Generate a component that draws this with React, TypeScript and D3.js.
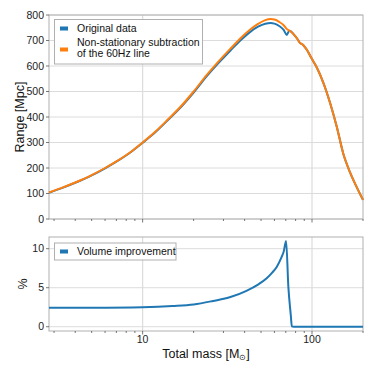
import React, { useEffect, useRef } from "react";
import * as d3 from "d3";

// Top panel: range vs total mass
const massTop = [2.8, 3.3, 4, 5, 6, 7, 8.5, 10, 12, 14, 17, 20, 24, 28, 33, 38, 43, 48, 53, 57, 60, 64, 68, 71, 72.5, 74, 78, 82, 85, 88, 91, 94, 99, 106, 117, 128, 140, 153, 167, 183, 200];
const rangeSub = [104, 121, 143, 172, 200, 226, 263, 300, 345, 388, 445, 500, 566, 617, 668, 710, 742, 765, 780, 784, 782, 773, 760, 745, 741, 738, 724, 706, 690, 684, 673, 660, 632, 598, 532, 454, 362, 256, 186, 127, 75];
const rangeOrig = [103, 120, 142, 171, 199, 225, 262, 299, 343, 386, 442, 496, 561, 611, 661, 702, 733, 754, 766, 769, 766, 757, 742, 722, 733, 738, 724, 706, 690, 684, 673, 660, 632, 598, 532, 454, 362, 256, 186, 127, 75];

// Bottom panel: volume improvement in percent
const massBot = [2.8, 5, 10, 15, 20, 26, 33, 41, 48, 54, 58, 62, 66, 68, 70.3, 72.5, 75, 76, 78, 100, 200];
const volImp = [2.42, 2.43, 2.5, 2.65, 2.85, 3.3, 3.8, 4.6, 5.4, 6.2, 6.9, 7.7, 8.9, 9.6, 11.0, 5.1, 1.4, 0.05, 0, 0, 0];

const topTicks = [0, 100, 200, 300, 400, 500, 600, 700, 800];
const botTicks = [0, 5, 10];
const xMajor = [10, 100];

const BLUE = "#1f77b4";
const ORANGE = "#ff7f0e";
const GRID = "#dcdcdc";
const FRAME = "#b0b0b0";
const FONT = "Liberation Sans, Arial, sans-serif";

export default function App() {
  const ref = useRef<SVGSVGElement>(null);

  useEffect(() => {
    const svg = d3.select(ref.current);
    svg.selectAll("*").remove();

    const left = 49, right = 363;
    const x = d3.scaleLog().domain([2.8, 200]).range([left, right]);
    const yTop = d3.scaleLinear().domain([0, 800]).range([219, 15]);
    const yBot = d3.scaleLinear().domain([-0.55, 11.5]).range([331, 237]);

    const minor = x.ticks().filter(v => v >= 2.8 && v <= 200);

    const panel = (y: d3.ScaleLinear<number, number>, ticks: number[]) => {
      const [y0, y1] = y.range();
      const g = svg.append("g");
      // grid
      ticks.forEach(t => {
        g.append("line").attr("x1", left).attr("x2", right)
          .attr("y1", y(t)).attr("y2", y(t))
          .attr("stroke", GRID).attr("stroke-width", 1);
      });
      xMajor.forEach(t => {
        g.append("line").attr("x1", x(t)).attr("x2", x(t))
          .attr("y1", y0).attr("y2", y1)
          .attr("stroke", GRID).attr("stroke-width", 1.2);
      });
      // frame
      g.append("rect").attr("x", left).attr("y", y1)
        .attr("width", right - left).attr("height", y0 - y1)
        .attr("fill", "none").attr("stroke", FRAME).attr("stroke-width", 1);
      // y ticks
      ticks.forEach(t => {
        g.append("line").attr("x1", left - 3).attr("x2", left)
          .attr("y1", y(t)).attr("y2", y(t))
          .attr("stroke", "#555").attr("stroke-width", 0.8);
        g.append("text").attr("x", left - 5).attr("y", y(t) + 3.5)
          .attr("text-anchor", "end").attr("font-size", "10.5px")
          .attr("font-family", FONT).attr("fill", "#222").text(t);
      });
      // x ticks
      minor.forEach(t => {
        const major = xMajor.includes(t);
        g.append("line").attr("x1", x(t)).attr("x2", x(t))
          .attr("y1", y0).attr("y2", y0 + (major ? 3.5 : 2))
          .attr("stroke", "#555").attr("stroke-width", 0.8);
      });
      return g;
    };

    const gTop = panel(yTop, topTicks);
    const gBot = panel(yBot, botTicks);

    const lineTop = (vals: number[]) => d3.line<number>()
      .x((_, i) => x(massTop[i]))
      .y(d => yTop(d))
      .curve(d3.curveMonotoneX)(vals);

    gTop.append("path").attr("d", lineTop(rangeOrig)).attr("fill", "none")
      .attr("stroke", BLUE).attr("stroke-width", 2);
    gTop.append("path").attr("d", lineTop(rangeSub)).attr("fill", "none")
      .attr("stroke", ORANGE).attr("stroke-width", 2);

    const lineBot = d3.line<number>()
      .x((_, i) => x(massBot[i]))
      .y(d => yBot(d))
      .curve(d3.curveMonotoneX);
    gBot.append("path").attr("d", lineBot(volImp)).attr("fill", "none")
      .attr("stroke", BLUE).attr("stroke-width", 2);

    // x tick labels
    xMajor.forEach(t => {
      svg.append("text").attr("x", x(t)).attr("y", 343)
        .attr("text-anchor", "middle").attr("font-size", "10.5px")
        .attr("font-family", FONT).attr("fill", "#222").text(t);
    });

    // axis labels
    const xl = svg.append("text").attr("x", 206).attr("y", 358)
      .attr("text-anchor", "middle").attr("font-size", "12.5px")
      .attr("font-family", FONT).attr("fill", "#111");
    xl.append("tspan").text("Total mass [M");
    xl.append("tspan").attr("font-size", "8px").attr("dy", 2).text("\u2299");
    xl.append("tspan").attr("dy", -2).text("]");

    svg.append("text").attr("transform", "translate(24,117) rotate(-90)")
      .attr("text-anchor", "middle").attr("font-size", "12.5px")
      .attr("font-family", FONT).attr("fill", "#111").text("Range [Mpc]");
    svg.append("text").attr("transform", "translate(27,284) rotate(-90)")
      .attr("text-anchor", "middle").attr("font-size", "12.5px")
      .attr("font-family", FONT).attr("fill", "#111").text("%");

    // legends
    const legBox = (x0: number, y0: number, w: number, h: number) =>
      svg.append("rect").attr("x", x0).attr("y", y0).attr("width", w).attr("height", h)
        .attr("fill", "white").attr("stroke", FRAME).attr("stroke-width", 1);
    const legText = (tx: number, ty: number, s: string) =>
      svg.append("text").attr("x", tx).attr("y", ty).attr("font-size", "10.5px")
        .attr("font-family", FONT).attr("fill", "#111").text(s);
    const patch = (px: number, py: number, c: string) =>
      svg.append("rect").attr("x", px).attr("y", py - 2).attr("width", 8).attr("height", 4).attr("fill", c);

    legBox(54.5, 19.5, 148, 44.5);
    patch(60, 28.5, BLUE);
    legText(77, 32, "Original data");
    patch(60, 49.5, ORANGE);
    legText(77, 46, "Non-stationary subtraction");
    legText(77, 56.5, "of the 60Hz line");

    legBox(54.5, 243, 121.5, 17);
    patch(60, 251.5, BLUE);
    legText(77, 255, "Volume improvement");
  }, []);

  return (
    <svg ref={ref} width={374} height={374}
      style={{ position: "absolute", left: 0, top: 0, background: "white" }} />
  );
}
